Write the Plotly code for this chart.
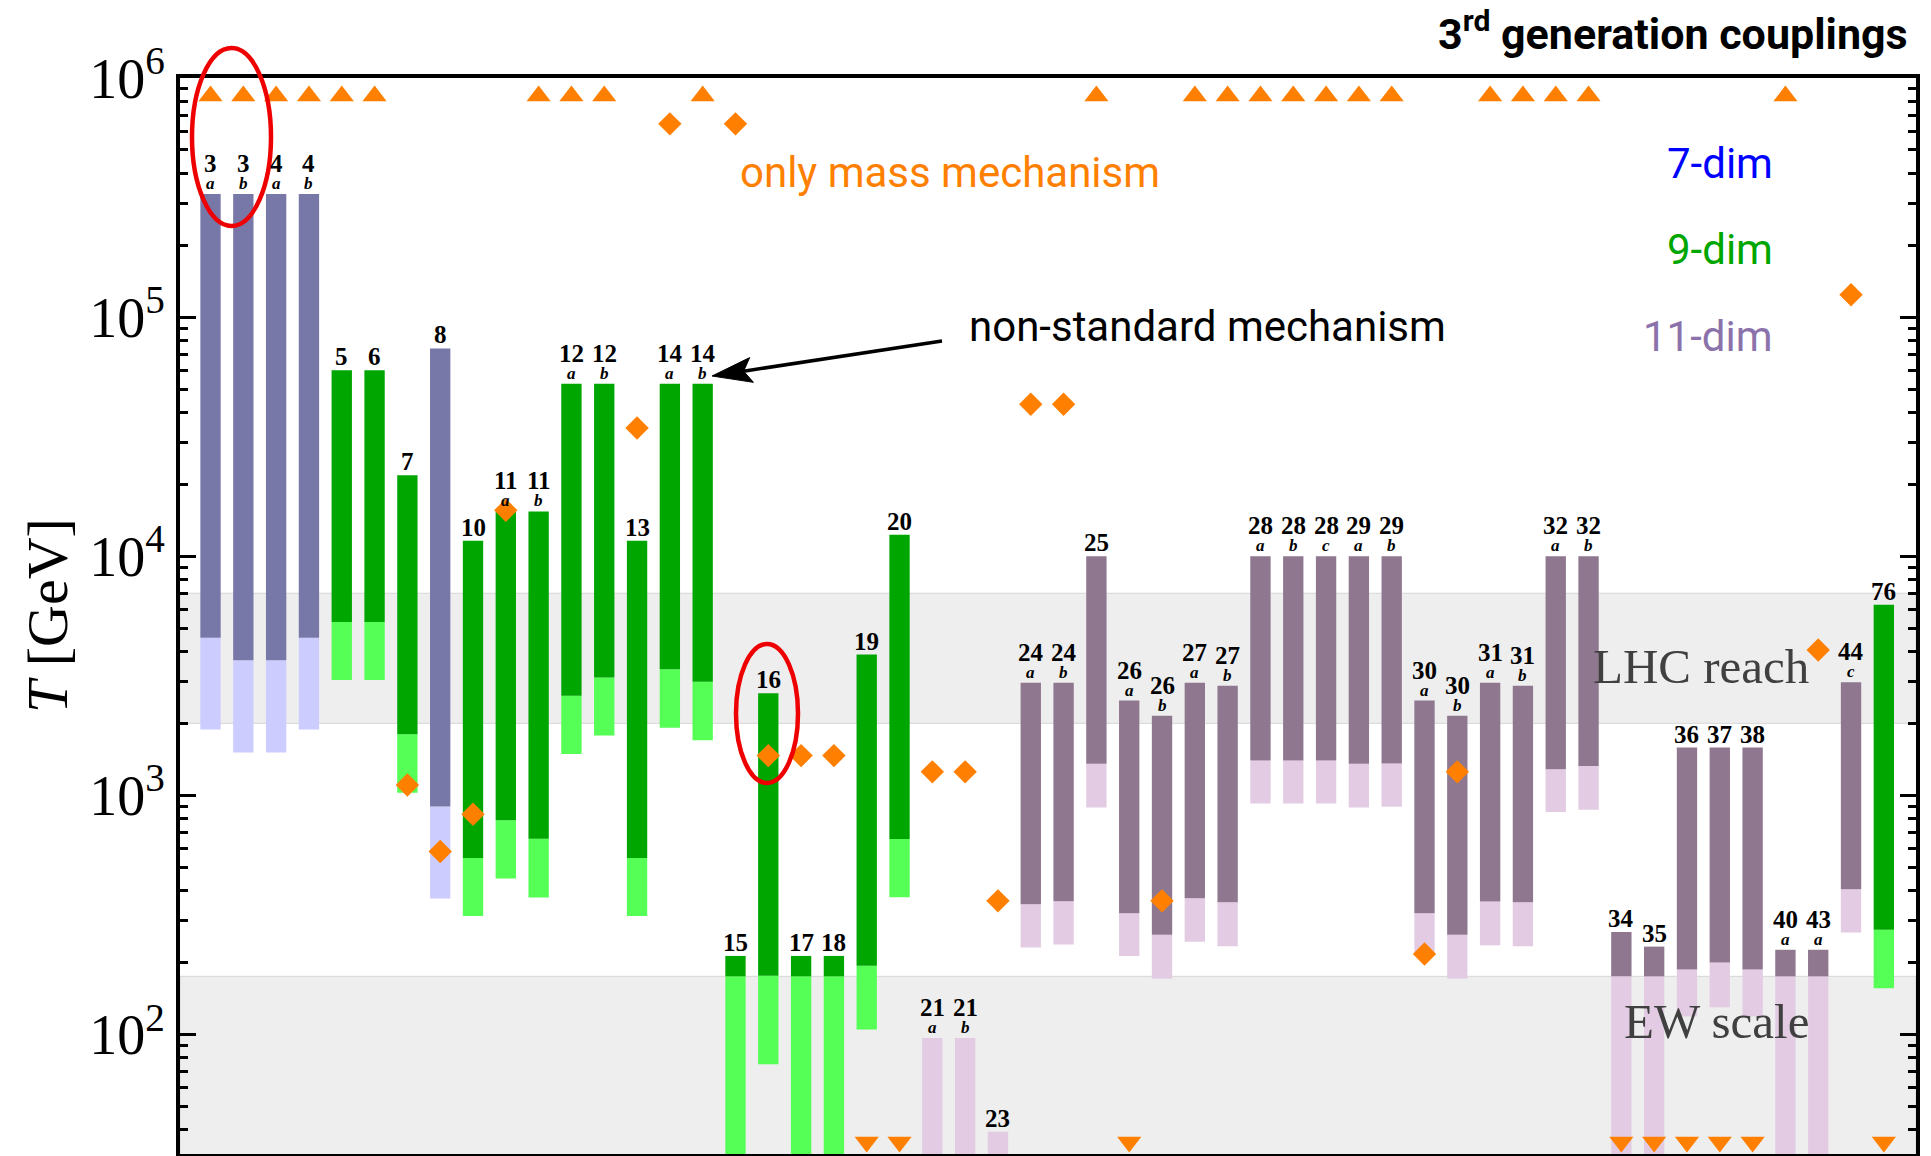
import numpy as np
import plotly.graph_objects as go

# ---------------- data ----------------
numbers = ['3', '3', '4', '4', '5', '6', '7', '8', '10', '11', '11', '12', '12', '13', '14', '14',
           '15', '16', '17', '18', '19', '20', '21', '21', '23', '24', '24', '25', '26', '26', '27', '27',
           '28', '28', '28', '29', '29', '30', '30', '31', '31', '32', '32', '34', '35', '36', '37', '38',
           '40', '43', '44', '76']
letters = ['a', 'b', 'a', 'b', '', '', '', '', '', 'a', 'b', 'a', 'b', '', 'a', 'b',
           '', '', '', '', '', '', 'a', 'b', '', 'a', 'b', '', 'a', 'b', 'a', 'b',
           'a', 'b', 'c', 'a', 'b', 'a', 'b', 'a', 'b', 'a', 'b', '', '', '', '', '',
           'a', 'a', 'c', '']
dims = [7, 7, 7, 7, 9, 9, 9, 7, 9, 9, 9, 9, 9, 9, 9, 9,
        9, 9, 9, 9, 9, 9, 11, 11, 11, 11, 11, 11, 11, 11, 11, 11,
        11, 11, 11, 11, 11, 11, 11, 11, 11, 11, 11, 11, 11, 11, 11, 11,
        11, 11, 11, 9]
# upper end of the range [GeV]
t_top = [3.27e5, 3.27e5, 3.27e5, 3.27e5, 6.0e4, 6.0e4, 2.18e4, 7.4e4, 1.16e4, 1.54e4, 1.54e4, 5.26e4, 5.26e4, 1.16e4, 5.26e4, 5.26e4,
         213, 2670, 213, 213, 3880, 1.23e4, 96.6, 96.6, 39.2, 2960, 2960, 1.0e4, 2490, 2150, 2960, 2870,
         1.0e4, 1.0e4, 1.0e4, 1.0e4, 1.0e4, 2490, 2150, 2960, 2870, 1.0e4, 1.0e4, 268, 233, 1585, 1585, 1585,
         226, 226, 2970, 6270]
# boundary between dark and light part [GeV]
t_mid = [4560, 3670, 3670, 4560, 5310, 5310, 1800, 897, 547, 786, 659, 2606, 3113, 547, 3366, 2985,
         175, 176, 175, 175, 194, 657, 96.6, 96.6, 39.2, 350, 361, 1355, 321, 261, 371, 357,
         1400, 1400, 1400, 1355, 1360, 321, 261, 360, 357, 1285, 1325, 175, 175, 187, 200, 187,
         175, 175, 405, 274]
# lower end of the light part [GeV] (10 = continues below the plotted range)
t_low = [1884, 1510, 1510, 1884, 3035, 3035, 1026, 370, 313, 449, 374, 1489, 1778, 313, 1916, 1698,
         10, 75, 10, 10, 105, 375, 10, 10, 10, 231, 238, 889, 213, 171, 244, 234,
         925, 925, 925, 889, 895, 220, 171, 236, 234, 851, 871, 10, 10, 119, 130, 119,
         10, 10, 267, 156]

# orange "only mass mechanism" markers
above_cats = ['3a', '3b', '4a', '4b', '5', '6', '11b', '12a', '12b', '14b', '25', '27a', '27b', '28a', '28b',
              '28c', '29a', '29b', '31a', '31b', '32a', '32b', '40a']
above_vals = [8.4e5, 8.4e5, 8.4e5, 8.4e5, 8.4e5, 8.4e5, 8.4e5, 8.4e5, 8.4e5, 8.4e5, 8.4e5, 8.4e5, 8.4e5,
              8.4e5, 8.4e5, 8.4e5, 8.4e5, 8.4e5, 8.4e5, 8.4e5, 8.4e5, 8.4e5, 8.4e5]
below_cats = ['19', '20', '26a', '34', '35', '36', '37', '38', '76']
below_vals = [35.5, 35.5, 35.5, 35.5, 35.5, 35.5, 35.5, 35.5, 35.5]
dia_cats = ['7', '8', '10', '11a', '13', '14a', '15', '16', '17', '18', '21a', '21b', '23', '24a', '24b',
            '26b', '30a', '30b', '43a', '44c']
dia_vals = [1104, 582, 834, 15560, 34400, 6.43e5, 6.43e5, 1466, 1466, 1466, 1254, 1254, 362, 43200, 43200,
            362, 217, 1254, 4055, 1.24e5]

lhc_band = [2000, 7000]
ew_top = 175

cats = [n + l for n, l in zip(numbers, letters)]

dark_col = {7: '#7878a8', 9: '#00a600', 11: '#8f778f'}
light_col = {7: '#ccccff', 9: '#55ff55', 11: '#e3cce3'}
ORANGE = '#ff8000'

# ---------------- layout geometry (page pixels; page body has an 8px margin) ----------------
OFF = 8
W, H = 1931 - OFF, 1156 - OFF
PL, PR, PT, PB = 180, 1916, 78, 1154   # plot area in page pixels


def pxx(x):
    return (x - PL) / (PR - PL)


def pxy(y):
    return (PB - y) / (PB - PT)


fig = go.Figure()

# light lower parts
fig.add_trace(go.Bar(
    x=cats, base=t_low, y=[m - l for m, l in zip(t_mid, t_low)], width=0.62,
    marker=dict(color=[light_col[d] for d in dims], line=dict(width=0)),
    hoverinfo='skip'))
# dark upper parts
fig.add_trace(go.Bar(
    x=cats, base=t_mid, y=[t - m for t, m in zip(t_top, t_mid)], width=0.62,
    marker=dict(color=[dark_col[d] for d in dims], line=dict(width=0)),
    hoverinfo='skip'))

# orange markers
fig.add_trace(go.Scatter(x=above_cats, y=above_vals, mode='markers', cliponaxis=False,
                         marker=dict(symbol='triangle-up', size=21, color=ORANGE)))
fig.add_trace(go.Scatter(x=below_cats, y=below_vals, mode='markers', cliponaxis=False,
                         marker=dict(symbol='triangle-down', size=21, color=ORANGE)))
fig.add_trace(go.Scatter(x=dia_cats, y=dia_vals, mode='markers', cliponaxis=False,
                         marker=dict(symbol='diamond', size=18, color=ORANGE)))

shapes = []
# shaded bands
shapes.append(dict(type='rect', xref='paper', yref='y', x0=0, x1=1, y0=lhc_band[0], y1=lhc_band[1],
                   fillcolor='#eeeeee', line=dict(color='#d6d6d6', width=1), layer='below'))
shapes.append(dict(type='rect', xref='paper', yref='y', x0=0, x1=1, y0=10, y1=ew_top,
                   fillcolor='#eeeeee', line=dict(color='#d6d6d6', width=1), layer='below'))
# red ellipses
shapes.append(dict(type='circle', xref='paper', yref='paper', x0=pxx(192), x1=pxx(271), y0=pxy(226), y1=pxy(48),
                   line=dict(color='#ee0000', width=4.5)))
shapes.append(dict(type='circle', xref='paper', yref='paper', x0=pxx(736), x1=pxx(798), y0=pxy(783), y1=pxy(644),
                   line=dict(color='#ee0000', width=4.5)))
# arrow for "non-standard mechanism"
tip = np.array([712.0, 376.0])
tail = np.array([942.0, 341.0])
u = (tail - tip) / np.linalg.norm(tail - tip)
nrm = np.array([-u[1], u[0]])
base_c = tip + 40 * u
c1 = base_c + 12.5 * nrm
c2 = base_c - 12.5 * nrm
notch = tip + 32 * u
shapes.append(dict(type='line', xref='paper', yref='paper', x0=pxx(tail[0]), y0=pxy(tail[1]),
                   x1=pxx(notch[0]), y1=pxy(notch[1]), line=dict(color='black', width=3.5)))
path = 'M {} {} L {} {} L {} {} L {} {} Z'.format(pxx(tip[0]), pxy(tip[1]), pxx(c1[0]), pxy(c1[1]),
                                                 pxx(notch[0]), pxy(notch[1]), pxx(c2[0]), pxy(c2[1]))
shapes.append(dict(type='path', xref='paper', yref='paper', path=path, fillcolor='black',
                   line=dict(color='black', width=1)))

annotations = []
SERIF = 'Liberation Serif'
SANS = 'Roboto'
# bar labels (x given as category index so numeric-looking names are not misread)
for i, (n, l, t) in enumerate(zip(numbers, letters, t_top)):
    ly = float(np.log10(t))
    if l:
        annotations.append(dict(x=i, y=ly, xref='x', yref='y', text='<b><i>%s</i></b>' % l, showarrow=False,
                                yanchor='bottom', yshift=-1, font=dict(family=SERIF, size=17, color='black')))
        annotations.append(dict(x=i, y=ly, xref='x', yref='y', text='<b>%s</b>' % n, showarrow=False,
                                yanchor='bottom', yshift=15, font=dict(family=SERIF, size=25, color='black')))
    else:
        annotations.append(dict(x=i, y=ly, xref='x', yref='y', text='<b>%s</b>' % n, showarrow=False,
                                yanchor='bottom', yshift=-2, font=dict(family=SERIF, size=25, color='black')))

# texts
annotations += [
    dict(xref='paper', yref='paper', x=pxx(1910), y=pxy(31), xanchor='right', yanchor='middle',
         text='<b>3<sup>rd</sup> generation couplings</b>', showarrow=False,
         font=dict(family=SANS, size=43, color='black')),
    dict(xref='paper', yref='paper', x=pxx(738), y=pxy(172), xanchor='left', yanchor='middle',
         text='only mass mechanism', showarrow=False, font=dict(family=SANS, size=42, color=ORANGE)),
    dict(xref='paper', yref='paper', x=pxx(967), y=pxy(326), xanchor='left', yanchor='middle',
         text='non-standard mechanism', showarrow=False, font=dict(family=SANS, size=42, color='black')),
    dict(xref='paper', yref='paper', x=pxx(1775), y=pxy(163), xanchor='right', yanchor='middle',
         text='7-dim', showarrow=False, font=dict(family=SANS, size=42, color='#0000ff')),
    dict(xref='paper', yref='paper', x=pxx(1775), y=pxy(250), xanchor='right', yanchor='middle',
         text='9-dim', showarrow=False, font=dict(family=SANS, size=42, color='#00a600')),
    dict(xref='paper', yref='paper', x=pxx(1775), y=pxy(336), xanchor='right', yanchor='middle',
         text='11-dim', showarrow=False, font=dict(family=SANS, size=42, color='#8c72aa')),
    dict(xref='paper', yref='paper', x=pxx(1811), y=pxy(666), xanchor='right', yanchor='middle',
         text='LHC reach', showarrow=False, font=dict(family=SERIF, size=49, color='#404040')),
    dict(xref='paper', yref='paper', x=pxx(1811), y=pxy(1022), xanchor='right', yanchor='middle',
         text='EW scale', showarrow=False, font=dict(family=SERIF, size=49, color='#404040')),
    dict(xref='paper', yref='paper', x=pxx(47), y=0.5, xanchor='center', yanchor='middle', textangle=-90,
         text='<i>T</i> [GeV]', showarrow=False, font=dict(family=SERIF, size=58, color='black')),
]

major = [1e2, 1e3, 1e4, 1e5, 1e6]
minor_vals = [m * 10.0 ** k for k in range(1, 6) for m in range(2, 10) if m * 10.0 ** k > 31]

fig.update_layout(
    width=W, height=H,
    margin=dict(l=PL - OFF, r=1931 - PR, t=PT - OFF, b=1156 - PB, autoexpand=False),
    paper_bgcolor='white', plot_bgcolor='white',
    showlegend=False, barmode='overlay',
    shapes=shapes, annotations=annotations,
    xaxis=dict(type='category', categoryorder='array', categoryarray=cats, range=[-0.93, 51.98],
               showline=True, linewidth=4, linecolor='black', mirror=True, ticks='',
               showticklabels=False, showgrid=False, zeroline=False),
    yaxis=dict(type='log', range=[1.5, 6], showline=True, linewidth=4, linecolor='black', mirror='ticks',
               ticks='inside', ticklen=16, tickwidth=3, tickcolor='black',
               tickvals=major, ticktext=['10<sup>%d</sup>' % int(np.log10(v)) for v in major],
               tickfont=dict(family=SERIF, size=56, color='black'),
               minor=dict(ticks='inside', ticklen=8, tickwidth=3, tickcolor='black', tickvals=minor_vals,
                          showgrid=False),
               showgrid=False, zeroline=False),
)

fig.write_html('out.html')
